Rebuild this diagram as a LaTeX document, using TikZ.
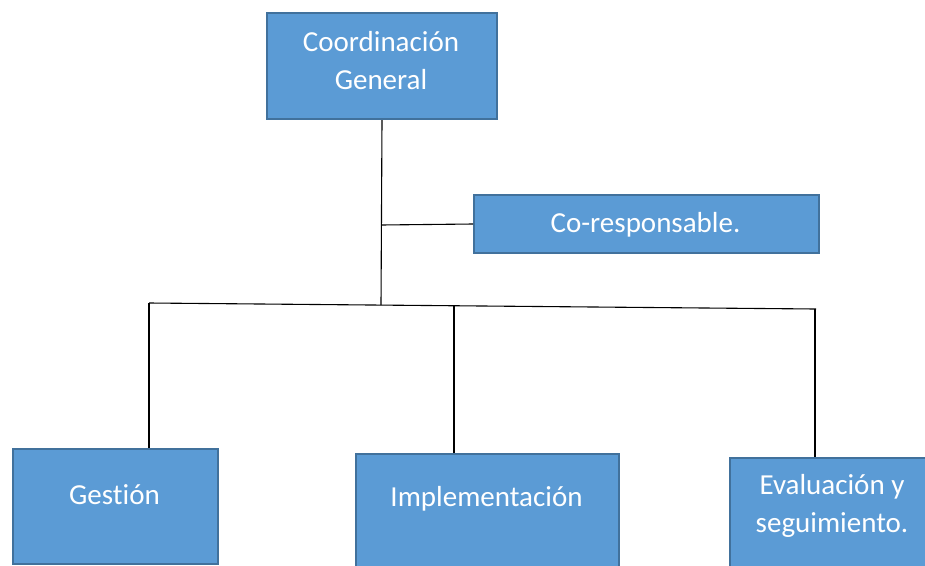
\documentclass[tikz,border=0pt]{standalone}
\usepackage{fontspec}
\setmainfont{Carlito}[Ligatures={NoCommon,TeX}]
\definecolor{boxfill}{HTML}{5B9BD5}
\definecolor{boxline}{HTML}{41719C}
\begin{document}
\begin{tikzpicture}[x=1pt,y=-1pt,
  box/.style={draw=boxline,fill=boxfill,line width=2pt,inner sep=0pt,anchor=north west},
  txt/.style={text=white,font=\fontsize{29}{38}\selectfont,align=center,inner sep=0pt},
  conn/.style={draw=black,line width=1.1pt}]
\useasboundingbox (0,0) rectangle (925,565);
\begin{scope}
\clip (0,0) rectangle (925,565);
% boxes
\node[box,minimum width=230pt,minimum height=106pt] (top) at (266,12) {};
\node[box,minimum width=345pt,minimum height=58pt] (cor) at (473,194) {};
\node[box,minimum width=205pt,minimum height=115pt] (gest) at (12,448) {};
\node[box,minimum width=263pt,minimum height=125pt] (impl) at (355,453) {};
\node[box,minimum width=206pt,minimum height=125pt] (eval) at (729,457) {};
% texts
\node[txt] (topT) at (381,61) {Coordinación\\General};
\node[txt] (corT) at (645.5,225) {Co-responsable.};
\node[txt] (gestT) at (114.5,495) {Gestión};
\node[txt] (implT) at (486.5,499) {Implementación};
\node[txt] (evalT) at (832,506) {Evaluación y\\seguimiento.};
% connectors
\coordinate (busL) at (149,303);
\coordinate (busM) at (381,305);
\coordinate (busC) at (454,305.6);
\coordinate (busR) at (816,309);
\coordinate (br) at (381,225);
\draw[conn] (top.south) -- (busM);
\draw[conn] (br) -- (cor.west);
\draw[conn] (busL) -- (busR);
\draw[conn] (busL) -- (busL |- gest.north);
\draw[conn] (busC) -- (busC |- impl.north);
\draw[conn] ([xshift=-1pt]busR) -- ([xshift=-1pt]busR |- eval.north);
\end{scope}
\end{tikzpicture}
\end{document}
